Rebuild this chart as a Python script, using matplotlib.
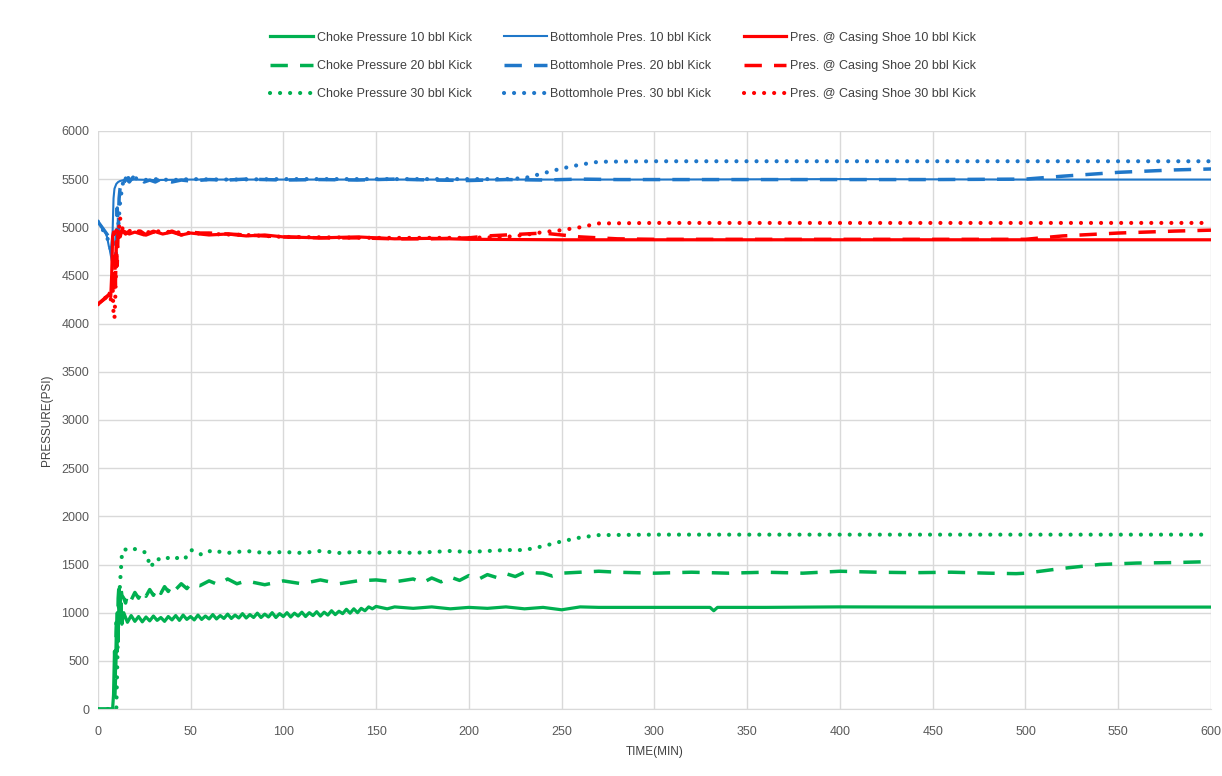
import matplotlib.pyplot as plt

plt.rcParams['font.family'] = ['Liberation Sans Narrow', 'Liberation Sans', 'DejaVu Sans']

GREEN = "#00b050"
BLUE = "#1f77c9"
RED = "#ff0000"

# choke pressure (psi) vs time (min)
t_choke10 = [0, 8, 8.5, 9, 9.5, 10, 10.5, 11, 11.5, 12, 12.5, 13,
             14, 16, 18, 20, 22, 24, 26, 28, 30, 32, 34, 36, 38, 40, 42, 44, 46, 48,
             50, 52, 54, 56, 58, 60, 62, 64, 66, 68, 70, 72, 74, 76, 78, 80, 82, 84,
             86, 88, 90, 92, 94, 96, 98, 100, 102, 104, 106, 108, 110, 112, 114, 116, 118, 120,
             122, 124, 126, 128, 130, 132, 134, 136, 138, 140, 142, 144, 146, 148, 150,
             156, 160, 170, 180, 190, 200, 210, 220, 230, 240, 250, 260, 270, 300, 330, 332, 334, 360, 400, 450, 500, 550, 600]
p_choke10 = [0, 0, 150, 600, 350, 800, 1000, 700, 1250, 900, 1100, 880,
             1000, 900, 970, 910, 960, 905, 955, 915, 965, 920, 950, 910, 960, 925, 970, 920, 975, 930,
             960, 925, 975, 930, 965, 935, 980, 935, 970, 940, 985, 940, 975, 945, 990, 945, 980, 950,
             995, 950, 985, 955, 1000, 950, 990, 960, 1000, 955, 995, 965, 1005, 960, 1000, 970, 1010, 965,
             1005, 975, 1020, 980, 1015, 990, 1035, 995, 1040, 1000, 1045, 1020, 1060, 1040, 1065,
             1040, 1060, 1045, 1060, 1040, 1055, 1045, 1060, 1040, 1055, 1030, 1060, 1055, 1055, 1055, 1020, 1055, 1055, 1060, 1058, 1058, 1058, 1058]

t_choke20 = [0, 9, 9.5, 10, 10.5, 11, 11.5, 12, 12.5, 13, 14, 15, 16, 18, 20, 22, 24, 26, 28, 30,
             32, 34, 36, 38, 40, 42, 45, 48, 50, 55, 60, 65, 70, 75, 80, 90, 100, 110, 120, 130,
             140, 150, 160, 170, 175, 180, 185, 190, 195, 200, 205, 210, 215, 220, 225, 230, 240, 245, 250, 260,
             270, 280, 300, 320, 340, 360, 380, 400, 420, 440, 460, 480, 495, 500, 520, 540, 560, 580, 600]
p_choke20 = [0, 0, 300, 900, 600, 1150, 1300, 1100, 1250, 1180, 1150, 1100, 1190, 1130, 1210, 1150, 1230, 1170, 1240, 1180,
             1260, 1200, 1270, 1220, 1290, 1240, 1300, 1250, 1300, 1280, 1330, 1290, 1350, 1300, 1330, 1290, 1330, 1300, 1340, 1300,
             1330, 1340, 1320, 1350, 1310, 1360, 1320, 1370, 1335, 1385, 1345, 1395, 1365, 1405, 1375, 1420, 1410, 1380, 1410, 1420,
             1430, 1420, 1410, 1420, 1410, 1420, 1410, 1430, 1420, 1415, 1420, 1410, 1405, 1410, 1460, 1500, 1515, 1520, 1530]

t_choke30 = [0, 10, 11, 12, 13, 14, 16, 18, 20, 22, 24, 26, 27, 28, 29, 30, 32, 35, 38, 41,
             44, 47, 50, 53, 56, 58, 62, 66, 70, 80, 90, 100, 110, 120, 130, 140, 150, 160, 170, 180,
             190, 200, 210, 220, 230, 240, 250, 260, 270, 300, 350, 400, 450, 500, 550, 600]
p_choke30 = [0, 0, 900, 1300, 1600, 1660, 1650, 1640, 1660, 1650, 1640, 1620, 1560, 1500, 1470, 1540, 1560, 1540, 1570, 1550,
             1580, 1560, 1650, 1640, 1600, 1620, 1650, 1630, 1620, 1640, 1620, 1630, 1620, 1640, 1620, 1630, 1620, 1630, 1620, 1630,
             1640, 1630, 1640, 1650, 1650, 1690, 1740, 1780, 1805, 1810, 1810, 1810, 1810, 1810, 1810, 1810]

# bottomhole pressure
t_bh10 = [0, 2, 4, 5, 6, 7, 8, 8.5, 9, 10, 11, 12, 14, 16, 20, 30, 50, 100, 200, 300, 400, 500, 600]
p_bh10 = [5060, 5010, 4950, 4900, 4800, 4760, 4950, 5300, 5400, 5450, 5470, 5480, 5490, 5490, 5495, 5490, 5495, 5495, 5495, 5495, 5500, 5495, 5495]

t_bh20 = [0, 6, 7, 8, 9, 10, 10.5, 11, 11.5, 12, 13, 14, 15, 17, 19, 21, 23, 25, 28, 31,
          34, 37, 40, 45, 50, 60, 70, 80, 100, 120, 140, 160, 180, 200, 220, 240, 260, 280, 300, 350,
          400, 450, 500, 520, 550, 580, 600]
p_bh20 = [5060, 4900, 4750, 4650, 4700, 4900, 5200, 4950, 5300, 5400, 5480, 5450, 5510, 5470, 5520, 5480, 5500, 5470, 5490, 5470,
          5500, 5480, 5470, 5490, 5480, 5495, 5490, 5500, 5490, 5495, 5490, 5500, 5490, 5485, 5495, 5490, 5500, 5495, 5495, 5495,
          5495, 5495, 5500, 5530, 5570, 5595, 5605]

t_bh30 = [0, 5, 8, 9, 10, 11, 12, 13, 14, 16, 18, 20, 25, 30, 40, 50, 70, 100, 150, 200,
          220, 230, 240, 250, 260, 270, 300, 400, 500, 600]
p_bh30 = [5060, 4900, 4700, 4600, 4750, 5000, 5250, 5400, 5500, 5520, 5480, 5510, 5490, 5500, 5490, 5500, 5495, 5500, 5500, 5500,
          5500, 5510, 5560, 5610, 5650, 5680, 5685, 5685, 5685, 5685]

# pressure at casing shoe
t_cs10 = [0, 2, 4, 6, 7, 7.5, 8, 8.5, 9, 10, 12, 14, 17, 20, 25, 30, 35, 40, 45, 50,
          60, 70, 80, 90, 100, 120, 140, 160, 180, 200, 250, 300, 400, 500, 600]
p_cs10 = [4200, 4230, 4260, 4300, 4280, 4500, 4900, 4950, 4930, 4970, 4940, 4960, 4930, 4950, 4920, 4960, 4930, 4950, 4920, 4940,
          4920, 4930, 4910, 4920, 4900, 4890, 4900, 4880, 4885, 4875, 4870, 4870, 4870, 4870, 4870]

t_cs20 = [0, 6, 7, 8, 8.5, 9, 9.5, 10, 10.5, 11, 12, 13, 15, 17, 20, 23, 26, 30, 35, 40,
          45, 50, 55, 60, 70, 80, 100, 120, 140, 160, 180, 200, 210, 220, 230, 240, 250, 260, 280, 300,
          350, 400, 450, 500, 520, 550, 580, 600]
p_cs20 = [4200, 4300, 4350, 4500, 4300, 4700, 4400, 4850, 4600, 5000, 4900, 4970, 4930, 4960, 4930, 4960, 4920, 4950, 4930, 4960,
          4920, 4950, 4940, 4940, 4930, 4920, 4900, 4890, 4890, 4880, 4880, 4890, 4910, 4920, 4930, 4940, 4920, 4900, 4880, 4875,
          4875, 4875, 4875, 4875, 4910, 4940, 4960, 4970]

t_cs30 = [0, 6, 7, 8, 8.5, 9, 9.5, 10, 11, 12, 13, 14, 16, 18, 20, 25, 30, 40, 50, 60,
          80, 100, 150, 200, 220, 230, 240, 250, 260, 270, 300, 400, 500, 600]
p_cs30 = [4200, 4300, 4250, 4400, 4100, 4050, 4300, 4700, 4900, 5100, 5000, 4960, 4980, 4950, 4970, 4940, 4960, 4950, 4940, 4930,
          4920, 4900, 4890, 4890, 4900, 4920, 4950, 4970, 5000, 5040, 5045, 5045, 5045, 5045]

dash = (0, (5, 3.5))
dot = (0, (0.01, 2.4))

fig = plt.figure(figsize=(12.22, 7.76), dpi=100)
ax = fig.add_axes([0.080, 0.0863, 0.911, 0.745])

ax.plot(t_choke10, p_choke10, color=GREEN, lw=2.3, label="Choke Pressure 10 bbl Kick")
ax.plot(t_choke20, p_choke20, color=GREEN, lw=2.5, ls=dash, label="Choke Pressure 20 bbl Kick")
ax.plot(t_choke30, p_choke30, color=GREEN, lw=3.0, ls=dot, dash_capstyle='round', label="Choke Pressure 30 bbl Kick")
ax.plot(t_bh10, p_bh10, color=BLUE, lw=1.5, label="Bottomhole Pres. 10 bbl Kick")
ax.plot(t_bh20, p_bh20, color=BLUE, lw=2.5, ls=dash, label="Bottomhole Pres. 20 bbl Kick")
ax.plot(t_bh30, p_bh30, color=BLUE, lw=3.0, ls=dot, dash_capstyle='round', label="Bottomhole Pres. 30 bbl Kick")
ax.plot(t_cs10, p_cs10, color=RED, lw=2.3, label="Pres. @ Casing Shoe 10 bbl Kick")
ax.plot(t_cs20, p_cs20, color=RED, lw=2.5, ls=dash, label="Pres. @ Casing Shoe 20 bbl Kick")
ax.plot(t_cs30, p_cs30, color=RED, lw=3.0, ls=dot, dash_capstyle='round', label="Pres. @ Casing Shoe 30 bbl Kick")

ax.set_xlim(0, 600)
ax.set_ylim(0, 6000)
ax.set_xticks(range(0, 601, 50))
ax.set_yticks(range(0, 6001, 500))
ax.grid(True, color="#d9d9d9", lw=1)
ax.set_axisbelow(True)
for s in ax.spines.values():
    s.set_visible(False)
ax.spines['bottom'].set_visible(True)
ax.spines['bottom'].set_color("#d9d9d9")
ax.tick_params(length=0, labelsize=9, labelcolor="#595959")
ax.tick_params(axis='x', pad=12)
ax.tick_params(axis='y', pad=6)
ax.set_xlabel("TIME(MIN)", fontsize=8.5, color="#404040", labelpad=6)
ax.set_ylabel("PRESSURE(PSI)", fontsize=8.5, color="#404040", labelpad=6)

fig.legend(loc='center', bbox_to_anchor=(0.51, 0.915), ncol=3, frameon=False, fontsize=9,
           handlelength=3.4, handletextpad=0.3, columnspacing=2.6, labelspacing=1.3,
           labelcolor="#404040")

fig.savefig("out.png", dpi=100)
